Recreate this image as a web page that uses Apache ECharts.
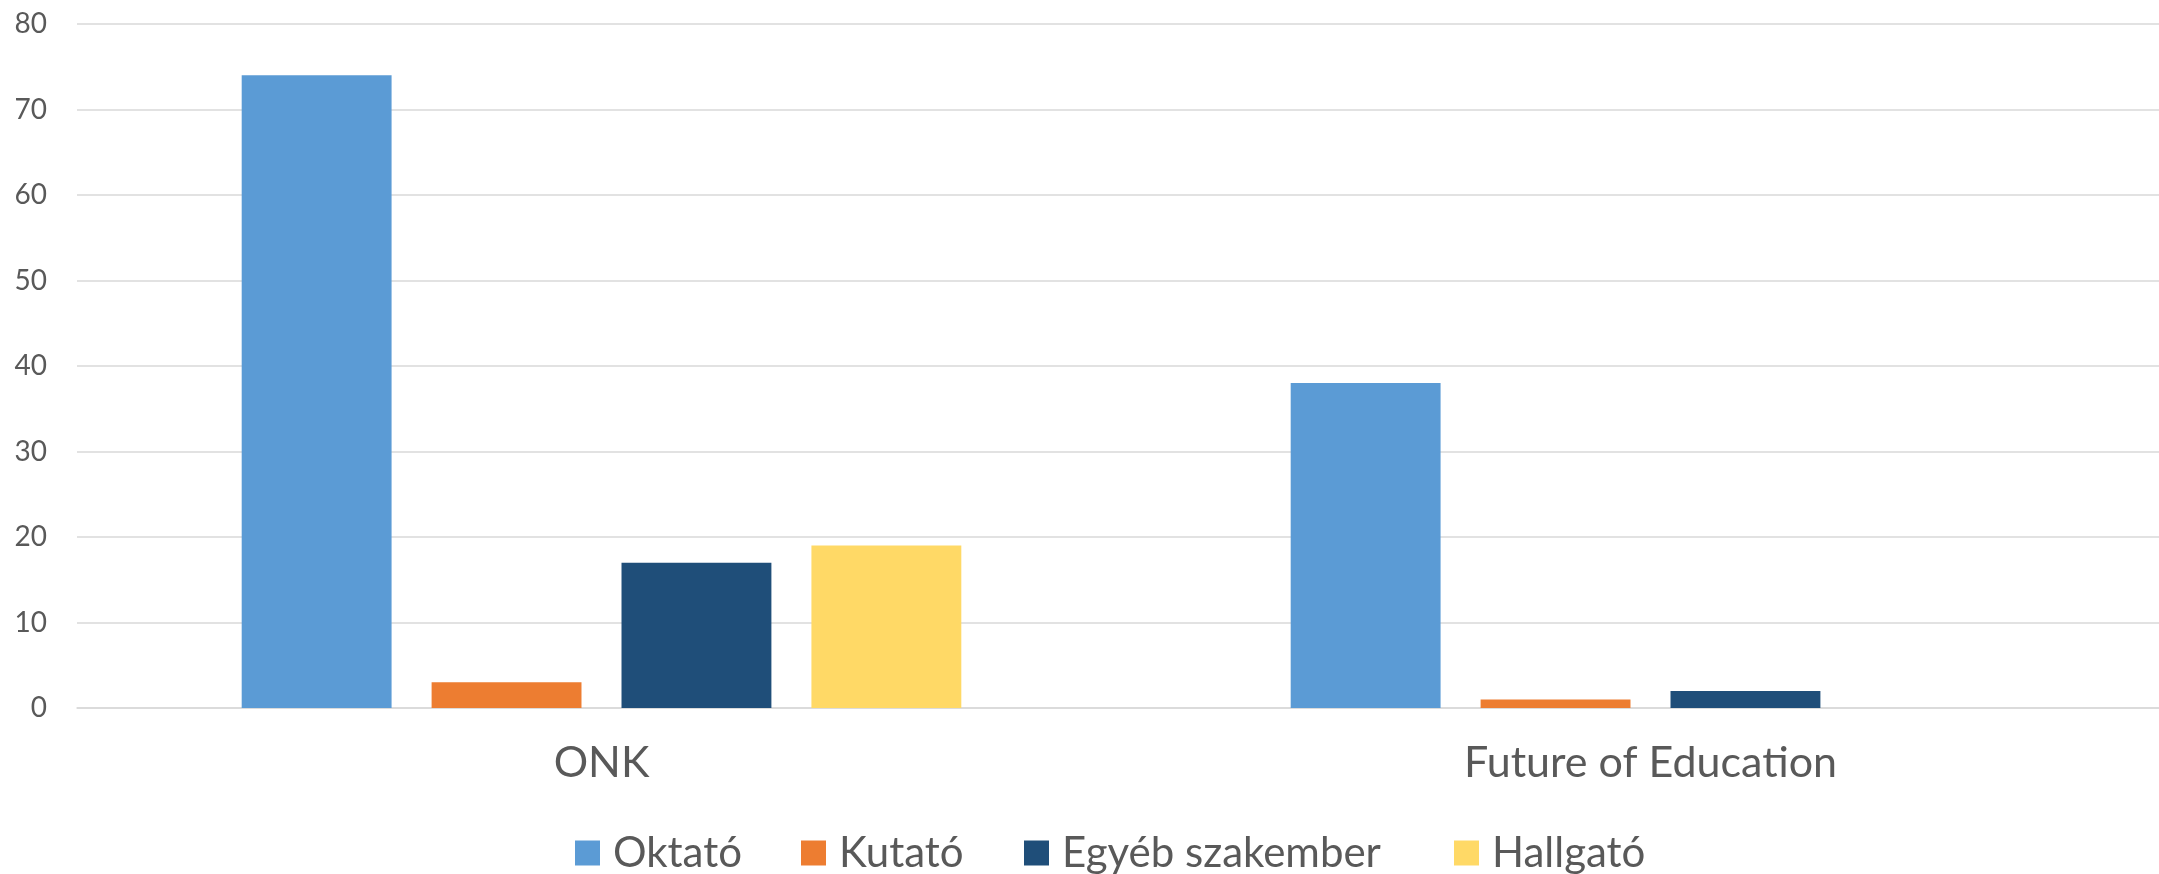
<!DOCTYPE html>
<html><head><meta charset="utf-8">
<script src="https://cdn.jsdelivr.net/npm/echarts@6/dist/echarts.min.js"></script>
<style>html,body{margin:0;padding:0;background:#fff;overflow:hidden}#c{width:2175px;height:874px}</style>
</head><body><div id="c"></div>
<script>
const categories = ['ONK', 'Future of Education'];
const seriesNames = ['Oktató', 'Kutató', 'Egyéb szakember', 'Hallgató'];
const oktato = [74, 38];
const kutato = [3, 1];
const egyeb = [17, 2];
const hallgato = [19, 0];
const yTicks = { min: 0, max: 80, interval: 10 };

const colors = ['#5B9BD5', '#ED7D31', '#1F4E79', '#FFD966'];
const values = [oktato, kutato, egyeb, hallgato];
const legendLefts = [570, 796, 1019, 1449];
const font = 'Lato, "Open Sans", sans-serif';

const chart = echarts.init(document.getElementById('c'), null, { renderer: 'canvas' });
chart.setOption({
  animation: false,
  backgroundColor: '#fff',
  color: colors,
  grid: { left: 77, right: 0, top: 24, bottom: 166, containLabel: false },
  legend: seriesNames.map((n, i) => ({
    left: legendLefts[i], top: 827,
    icon: 'rect', itemWidth: 25, itemHeight: 25,
    data: [n],
    textStyle: { fontFamily: font, fontSize: 42, color: '#595959', padding: [0, 0, 0, 8] }
  })),
  xAxis: {
    type: 'category', data: categories,
    axisLine: { show: true, lineStyle: { color: '#D9D9D9', width: 1.5 } },
    axisTick: { show: false },
    axisLabel: { fontFamily: font, fontSize: 43, color: '#595959', margin: 34 }
  },
  yAxis: {
    type: 'value', min: yTicks.min, max: yTicks.max, interval: yTicks.interval,
    axisLine: { show: false }, axisTick: { show: false },
    splitLine: { lineStyle: { color: '#D9D9D9', width: 1.5 } },
    axisLabel: { fontFamily: font, fontSize: 28, color: '#595959', margin: 30 }
  },
  series: seriesNames.map((n, i) => ({
    name: n, type: 'bar', data: values[i],
    barGap: '26.7%', barCategoryGap: '31.4%',
    itemStyle: { color: colors[i] }
  }))
});
</script></body></html>
